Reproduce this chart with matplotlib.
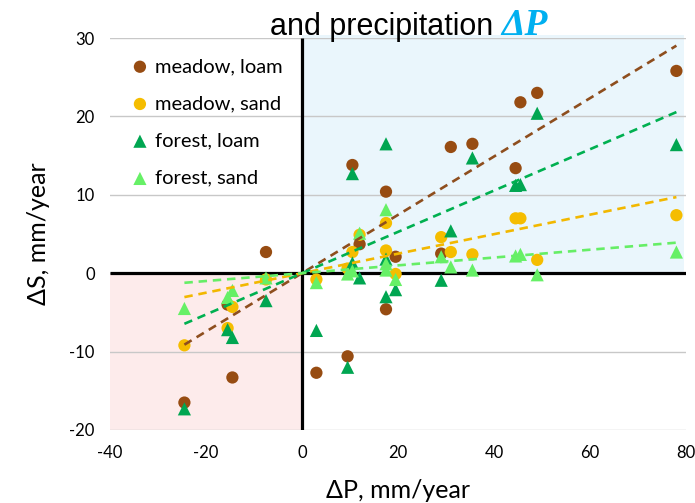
import numpy as np
import matplotlib
matplotlib.use("Agg")
import matplotlib.pyplot as plt
from matplotlib.patches import Rectangle

plt.rcParams["axes.unicode_minus"] = False

# ---------------- data ----------------
ml_x = [-24.5, -15.5, -14.5, -7.5, 3, 9.5, 10.5, 12, 17.5, 17.5, 19.5, 29, 31, 35.5, 44.5, 45.5, 49, 78]
ml_y = [-16.5, -4.0, -13.3, 2.7, -12.7, -10.6, 13.8, 3.7, 10.4, -4.6, 2.1, 2.5, 16.1, 16.5, 13.4, 21.8, 23.0, 25.8]

ms_x = [-24.5, -15.5, -14.5, -7.5, 3, 9.5, 10.5, 12, 17.5, 17.5, 19.5, 29, 31, 35.5, 44.5, 45.5, 49, 78]
ms_y = [-9.2, -7.0, -4.3, -0.8, -0.8, 0.6, 2.7, 4.9, 6.4, 2.9, -0.1, 4.6, 2.7, 2.4, 7.0, 7.0, 1.7, 7.4]

fl_x = [-24.5, -15.5, -14.5, -7.5, 3, 9.5, 10.5, 10.5, 12, 17.5, 17.5, 17.5, 19.5, 29, 31, 35.5, 44.5, 45.5, 49, 78]
fl_y = [-17.3, -7.2, -8.2, -3.5, -7.3, -12.0, 12.7, 1.3, -0.6, 16.5, 1.8, -3.0, -2.1, -0.9, 5.4, 14.7, 11.2, 11.3, 20.4, 16.4]

fs_x = [-24.5, -15.5, -14.5, -7.5, 3, 9.5, 10.5, 12, 17.5, 17.5, 17.5, 19.5, 29, 31, 35.5, 44.5, 45.5, 49, 78]
fs_y = [-4.5, -3.1, -2.2, -0.6, -1.2, -0.1, 0.3, 5.1, 8.1, 0.4, 1.2, -0.8, 2.1, 0.8, 0.4, 2.2, 2.4, -0.2, 2.7]

labels = ["meadow, loam", "meadow, sand", "forest, loam", "forest, sand"]
x_ticks = [-40, -20, 0, 20, 40, 60, 80]
y_ticks = [-20, -10, 0, 10, 20, 30]

# ---------------- styles ----------------
marker_colors = ["#974C12", "#F5BD00", "#00A651", "#66F066"]
line_colors = ["#8E4E1E", "#F2B800", "#00B050", "#66EE66"]
markers = ["o", "o", "^", "^"]
sizes = [78, 78, 90, 90]

fig = plt.figure(figsize=(6.95, 5.03), dpi=100)
ax = fig.add_axes([110/695, 1-430/503, 576/695, 392/503])
ax.set_xlim(-40, 80)
ax.set_ylim(-20, 30)

# shaded quadrants
ax.add_patch(Rectangle((0, 0), 79.5, 30.4, facecolor="#EAF6FC", edgecolor="none", zorder=0, clip_on=False))
ax.add_patch(Rectangle((-40, -20), 40, 20, facecolor="#FDEBEB", edgecolor="none", zorder=0))

# horizontal grid
for yv in y_ticks:
    ax.axhline(yv, color="#C8C8C8", lw=1.0, zorder=1)

# axes lines
ax.plot([-40, 80], [0, 0], color="black", lw=2.3, zorder=2, solid_capstyle="butt")
ax.plot([0, 0], [-20, 30], color="black", lw=2.3, zorder=2, solid_capstyle="butt")

series = [(ml_x, ml_y), (ms_x, ms_y), (fl_x, fl_y), (fs_x, fs_y)]
handles = []
for i, (xs, ys) in enumerate(series):
    xs = np.asarray(xs, float)
    ys = np.asarray(ys, float)
    h = ax.scatter(xs, ys, s=sizes[i], marker=markers[i], color=marker_colors[i],
                   edgecolors="none", zorder=3 + i, label=labels[i])
    handles.append(h)

for i, (xs, ys) in enumerate(series):
    xs = np.asarray(xs, float)
    ys = np.asarray(ys, float)
    k = np.sum(xs * ys) / np.sum(xs * xs)  # linear trend through origin
    xx = np.array([xs.min(), xs.max()])
    ax.plot(xx, k * xx, color=line_colors[i], lw=1.9, ls=(0, (3.2, 2.2)), zorder=8)

for sp in ax.spines.values():
    sp.set_visible(False)
ax.set_xticks(x_ticks)
ax.set_yticks(y_ticks)
ax.tick_params(length=0, labelsize=12, pad=11)
for lab in ax.get_xticklabels() + ax.get_yticklabels():
    lab.set_family("Lato")

leg = ax.legend(handles=handles, loc="upper left", bbox_to_anchor=(0.01, 0.98), frameon=False,
                prop={"family": "Lato", "size": 14.5}, handletextpad=0.15, labelspacing=1.0,
                handlelength=1.2, borderaxespad=0.2, scatterpoints=1)

fig.text(398/695, 1-490/503, "ΔP, mm/year", ha="center", va="center", fontsize=18, family="Lato")
fig.text(38/695, 1-234/503, "ΔS, mm/year", ha="center", va="center", rotation=90, fontsize=18, family="Lato")

# title (partially shown heading)
t1 = fig.text(270/695, 1-35/503, "and precipitation ", ha="left", va="baseline",
              fontsize=22, family="Liberation Sans")
fig.canvas.draw()
bb = t1.get_window_extent(renderer=fig.canvas.get_renderer())
fig.text(bb.x1 / (fig.dpi * 6.95), 1-35/503, "ΔP", ha="left", va="baseline", fontsize=27,
         family="Liberation Serif", weight="bold", style="italic", color="#00B0F0")

fig.savefig("out.png", dpi=100)
